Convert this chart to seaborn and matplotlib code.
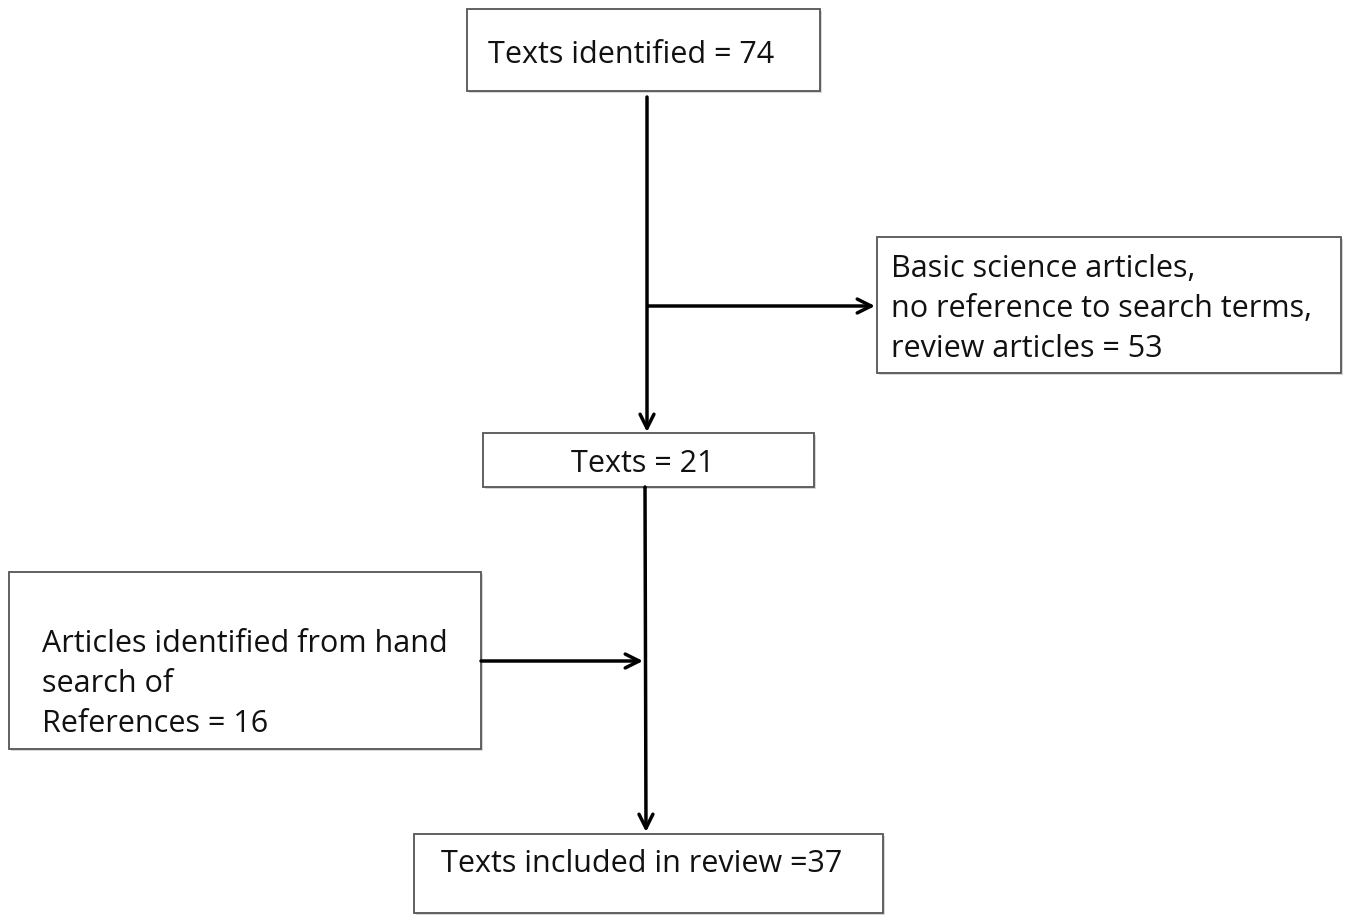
import matplotlib
matplotlib.use("Agg")
import matplotlib.pyplot as plt
import seaborn as sns
from matplotlib.patches import Rectangle

# flowchart content
box_texts = [
    "Texts identified = 74",
    "Basic science articles,\nno reference to search terms,\nreview articles = 53",
    "Texts = 21",
    "Articles identified from hand\nsearch of\nReferences = 16",
    "Texts included in review =37",
]
box_counts = [74, 53, 21, 16, 37]

# box geometry in pixel units (x0, y0, x1, y1), y from top
box_x0 = [467, 877, 483, 9, 414]
box_y0 = [9, 237, 433, 572, 834]
box_x1 = [820, 1341, 814, 481, 883]
box_y1 = [91, 373, 487, 749, 913]
text_x = [488, 891, 643, 42, 441]
text_ha = ["left", "left", "center", "left", "left"]
text_y = [55, 309, 464, 684, 864]

sns.set_style("white")
plt.rcParams["font.family"] = ["Open Sans", "DejaVu Sans"]

fig, ax = plt.subplots(figsize=(13.5, 9.16), dpi=100)
fig.subplots_adjust(0, 0, 1, 1)
ax.set_xlim(0, 1350)
ax.set_ylim(916, 0)
ax.axis("off")

for i, txt in enumerate(box_texts):
    w = box_x1[i] - box_x0[i]
    h = box_y1[i] - box_y0[i]
    # faint shadow
    ax.add_patch(Rectangle((box_x0[i] + 2, box_y0[i] + 2), w, h,
                           facecolor="#d8d8d8", edgecolor="none", zorder=1))
    ax.add_patch(Rectangle((box_x0[i], box_y0[i]), w, h,
                           facecolor="white", edgecolor="#555555", lw=1.3, zorder=2))
    ax.text(text_x[i], text_y[i], txt, ha=text_ha[i], va="center",
            fontsize=22, color="#111111", linespacing=1.42, zorder=3)

arrow = dict(arrowstyle="->,head_length=1.0,head_width=0.5", lw=2.5, color="black",
             shrinkA=0, shrinkB=0)

# main vertical flow
ax.annotate("", xy=(647, 432), xytext=(647, 97), arrowprops=arrow)
ax.annotate("", xy=(875, 306), xytext=(648, 306), arrowprops=arrow)
ax.annotate("", xy=(646, 832), xytext=(645, 487), arrowprops=arrow)
ax.annotate("", xy=(643, 661), xytext=(481, 661), arrowprops=arrow)

fig.savefig("out.png", dpi=100)
